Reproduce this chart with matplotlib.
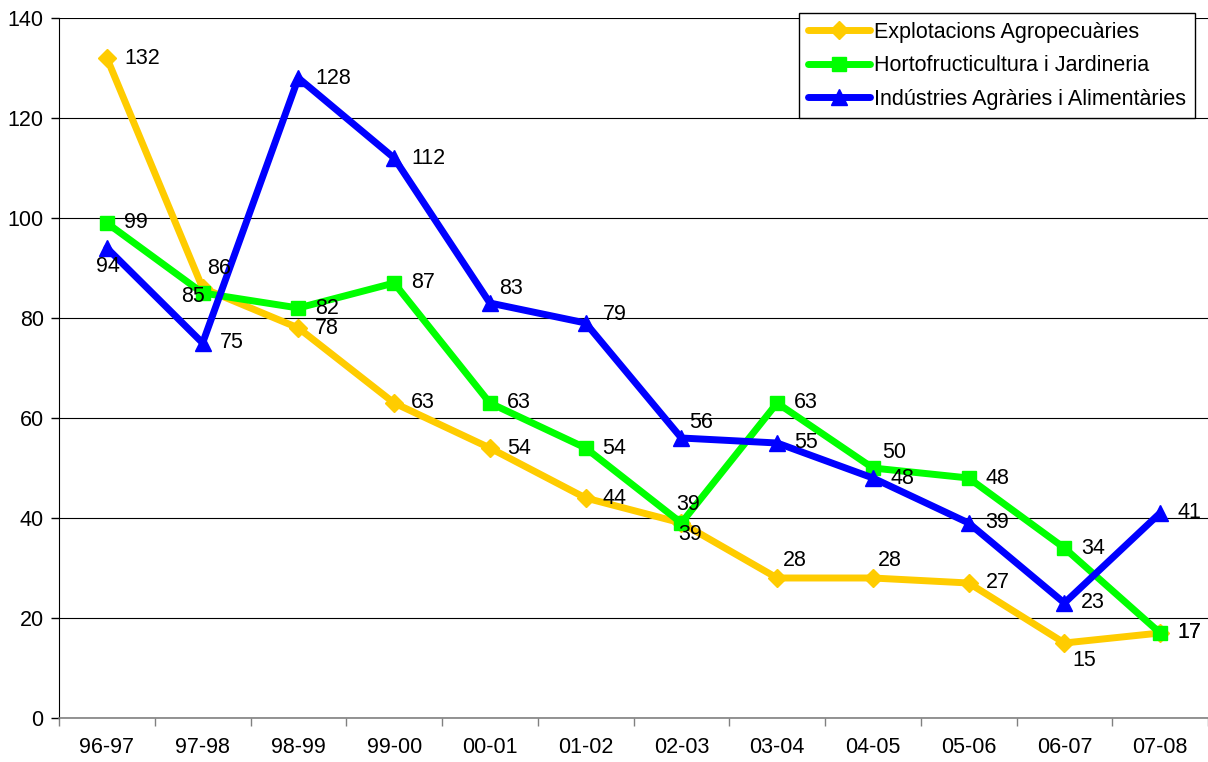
import matplotlib
matplotlib.use("Agg")
import matplotlib.pyplot as plt
import numpy as np

plt.rcParams['font.family'] = ['Liberation Sans', 'DejaVu Sans']

categories = ["96-97", "97-98", "98-99", "99-00", "00-01", "01-02",
              "02-03", "03-04", "04-05", "05-06", "06-07", "07-08"]
explotacions = [132, 86, 78, 63, 54, 44, 39, 28, 28, 27, 15, 17]
hortofructicultura = [99, 85, 82, 87, 63, 54, 39, 63, 50, 48, 34, 17]
industries = [94, 75, 128, 112, 83, 79, 56, 55, 48, 39, 23, 41]

series_names = ["Explotacions Agropecuàries",
                "Hortofructicultura i Jardineria",
                "Indústries Agràries i Alimentàries"]

FS = 15.5

# label offsets in pixels (dx, dy) relative to the point
R = (17, 0)
off_expl = [R, (4, 20), R, R, R, R, (-3, -12), (6, 18), (5, 18), R, (8, -17), R]
off_hort = [R, (-22, -3), R, R, R, R, (-5, 18), R, (9, 15), R, R, R]
off_ind = [(-11, -19), R, R, R, (9, 14), (17, 8), (8, 15), R, (18, 0), R, R, R]

fig = plt.figure(figsize=(12.08, 7.62), dpi=100)
ax = fig.add_axes([59 / 1208, 1 - 718 / 762, 1149 / 1208, 700 / 762])

x = np.arange(len(categories))
styles = [
    (explotacions, "#FFCC00", "D", 9, off_expl),
    (hortofructicultura, "#00FF00", "s", 10, off_hort),
    (industries, "#0000FF", "^", 11, off_ind),
]
handles = []
for (vals, col, mk, ms, offs), name in zip(styles, series_names):
    h, = ax.plot(x, vals, color=col, lw=5, marker=mk, markersize=ms,
                 markerfacecolor=col, markeredgecolor=col, label=name,
                 solid_joinstyle='round', solid_capstyle='round', zorder=3)
    handles.append(h)
    for xi, v, (dx, dy) in zip(x, vals, offs):
        ax.annotate(str(v), (xi, v), xytext=(dx, dy), textcoords='offset pixels',
                    ha='left', va='center', fontsize=FS, color='black', zorder=4)

ax.set_xlim(-0.5, 11.5)
ax.set_ylim(0, 140)
ax.set_yticks(np.arange(0, 141, 20))
ax.set_yticklabels([str(v) for v in range(0, 141, 20)], fontsize=FS)
ax.set_xticks(x)
ax.set_xticklabels(categories, fontsize=FS)
ax.set_xticks(np.arange(-0.5, 12, 1), minor=True)
ax.tick_params(axis='x', which='major', length=0, pad=14)
ax.tick_params(axis='x', which='minor', length=6, width=1, color='#808080', direction='out')
ax.tick_params(axis='y', length=6, width=1, direction='out', pad=5)

ax.yaxis.grid(True, color='black', lw=0.8)
ax.set_axisbelow(True)
for s in ['top', 'right']:
    ax.spines[s].set_visible(False)
ax.spines['left'].set_color('black')
ax.spines['bottom'].set_color('#808080')
ax.spines['bottom'].set_linewidth(1.2)

leg = fig.legend(handles=handles, loc='upper right',
                 bbox_to_anchor=(1195 / 1208, 1 - 13 / 762), fontsize=FS,
                 frameon=True, fancybox=False, edgecolor='black', framealpha=1,
                 handlelength=2.9, handletextpad=0.2, borderpad=0.4,
                 labelspacing=0.58, borderaxespad=0)
leg.get_frame().set_linewidth(1.0)

fig.savefig("out.png", dpi=100)
